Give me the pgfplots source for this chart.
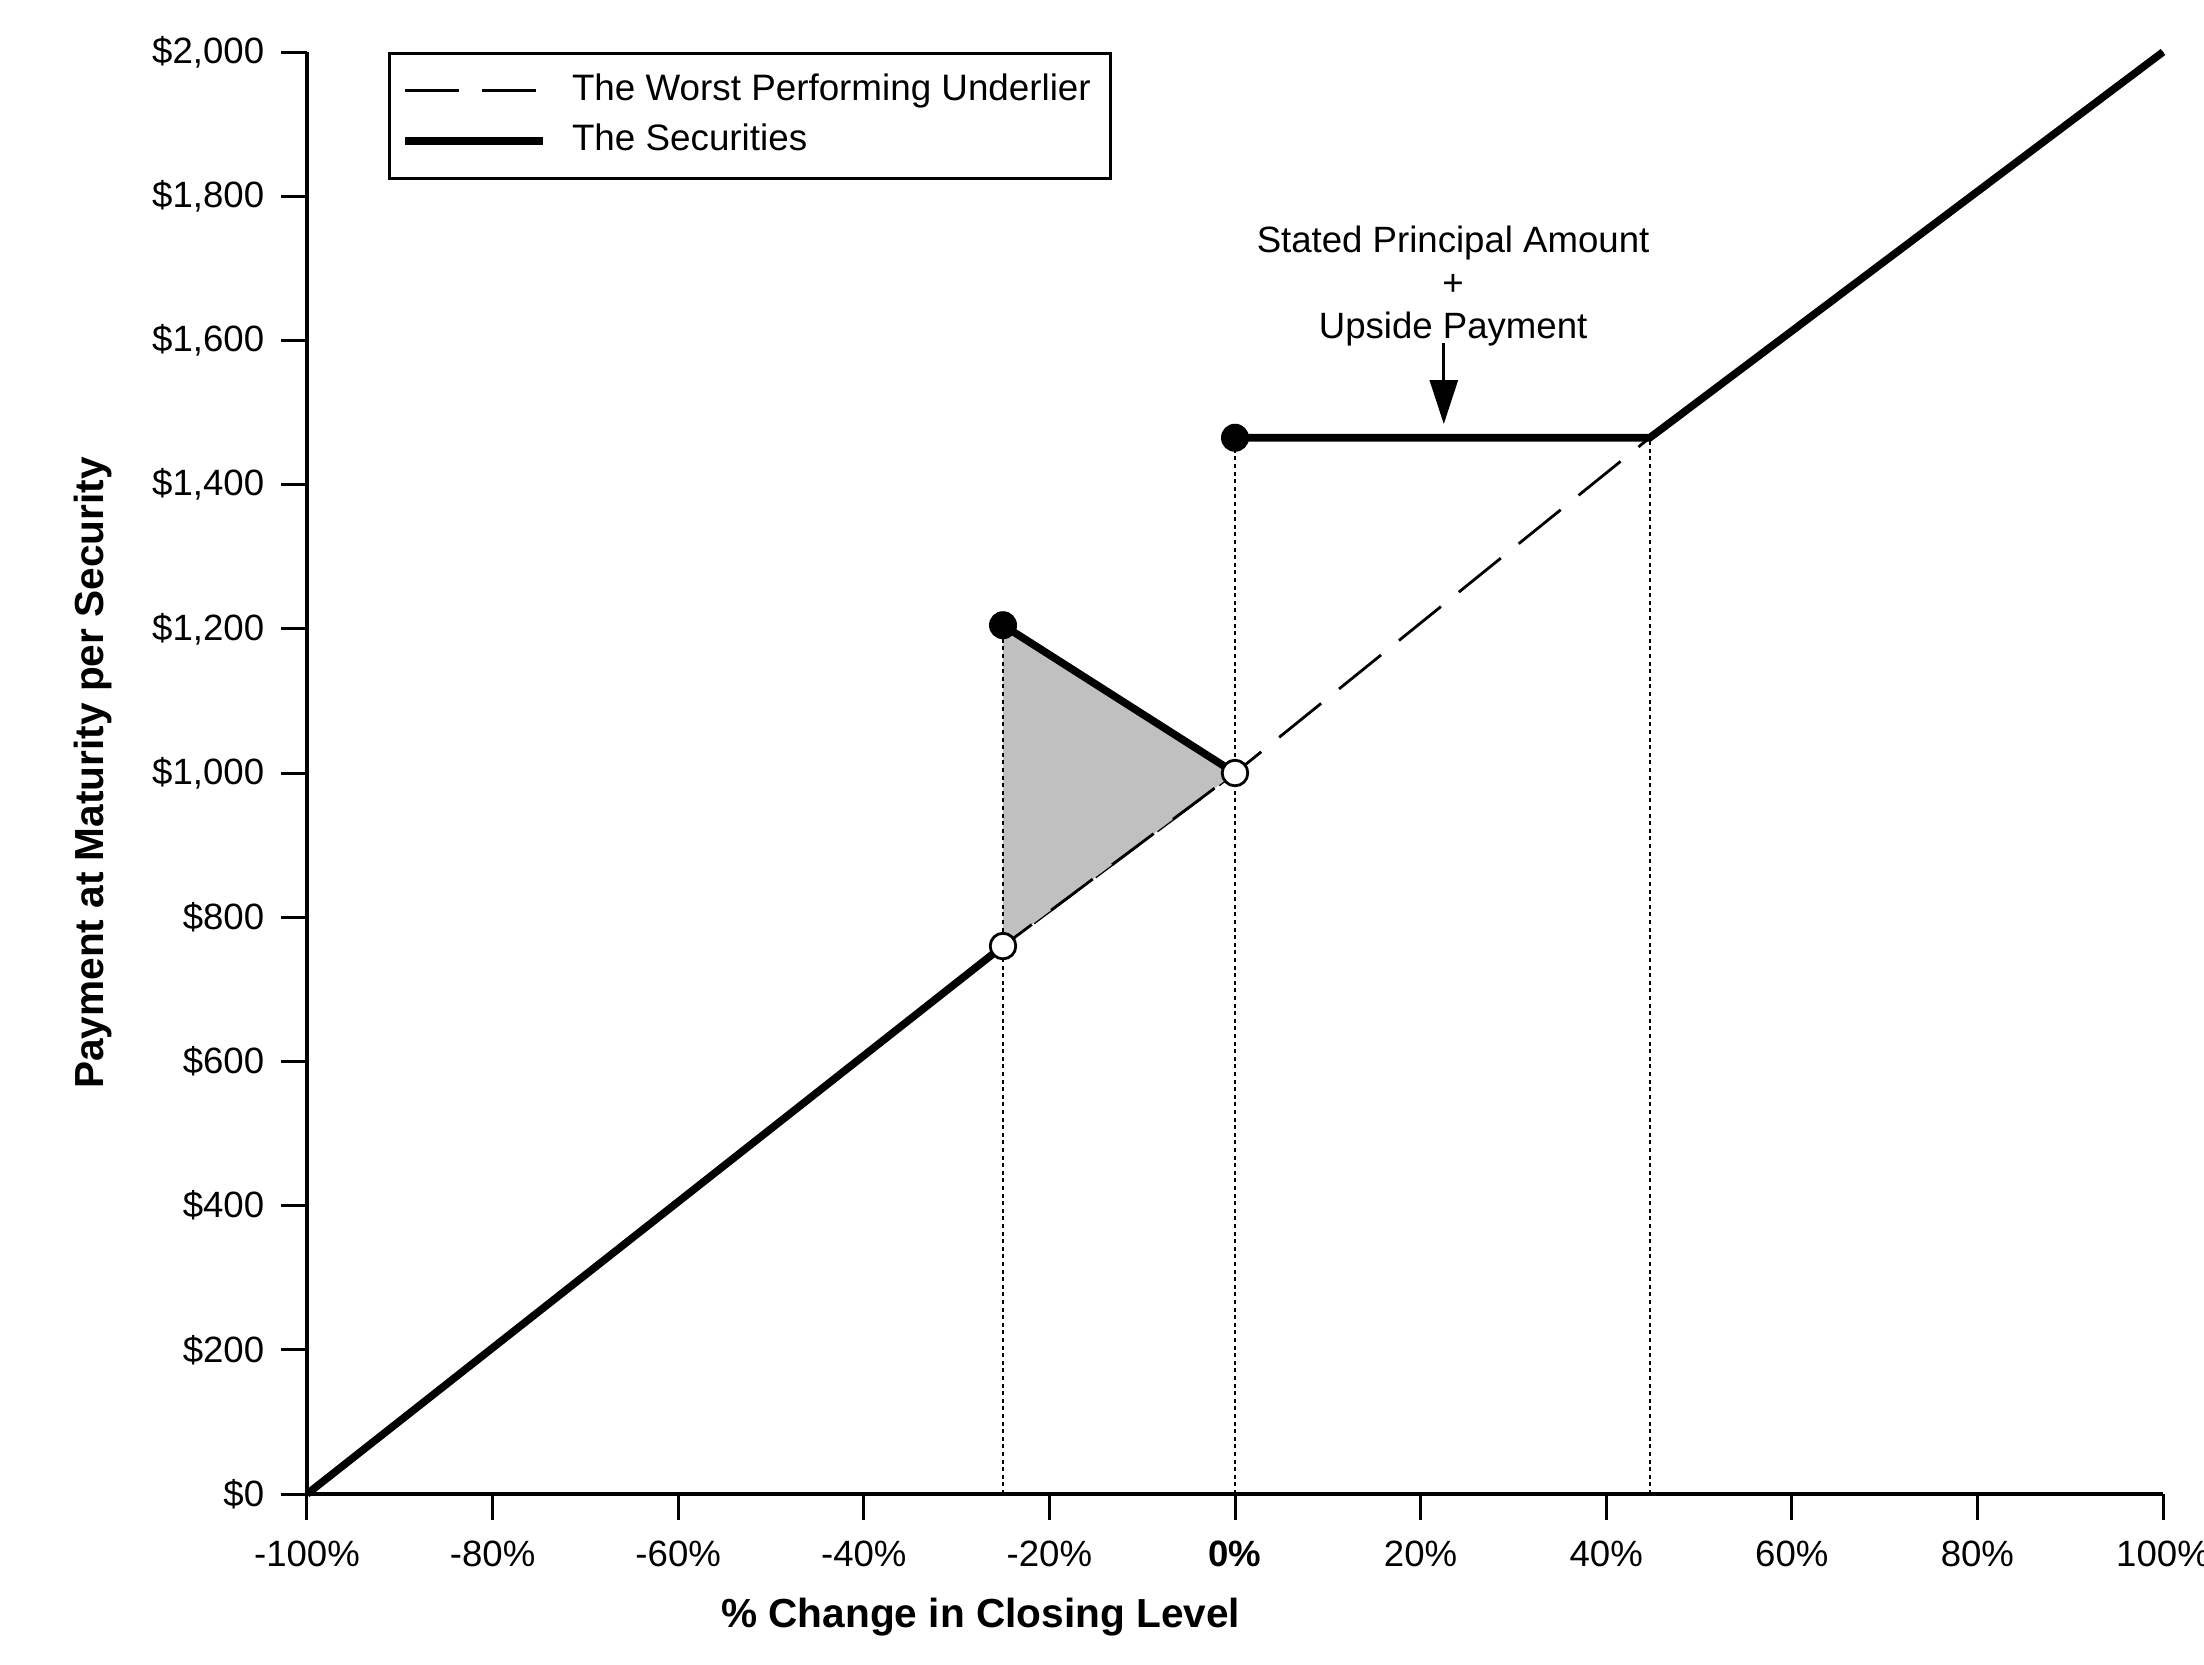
\documentclass[border=0pt]{standalone}
\usepackage{fontspec}
\setmainfont{Liberation Sans}
\usepackage{pgfplots}
\pgfplotsset{compat=1.18}
\usetikzlibrary{arrows.meta}
\definecolor{shade}{HTML}{C0C0C0}
\begin{document}
\fontsize{9.15pt}{11pt}\selectfont
\begin{tikzpicture}
\useasboundingbox (-76.75pt,-42.5pt) rectangle (474.25pt,373.5pt);
\begin{axis}[
  scale only axis, width=464pt, height=360.5pt,
  xmin=-100, xmax=100, ymin=0, ymax=2000,
  clip=false,
  axis lines=left,
  axis line style={-, line width=0.8pt},
  tick align=outside, major tick length=6.5pt,
  tick style={line width=0.75pt, black},
  xtick={-100,-80,...,100},
  xticklabels={-100\%,-80\%,-60\%,-40\%,-20\%,\textbf{0\%},20\%,40\%,60\%,80\%,100\%},
  ytick={0,200,...,2000},
  yticklabels={\$0,\$200,\$400,\$600,\$800,{\$1,000},{\$1,200},{\$1,400},{\$1,600},{\$1,800},{\$2,000}},
  xticklabel style={inner sep=0pt, anchor=north, font=\fontsize{9.15pt}{11pt}\selectfont},
  yticklabel style={inner sep=0pt, anchor=east, font=\fontsize{9.15pt}{11pt}\selectfont},
  xticklabel shift=5pt,
  yticklabel shift=4pt,
  xlabel={\% Change in Closing Level},
  ylabel={Payment at Maturity per Security},
  label style={font=\fontsize{10.15pt}{12pt}\selectfont\bfseries, inner sep=0pt},
  xlabel style={at={(axis description cs:0.363,0)}, anchor=base, yshift=-33.25pt},
  ylabel style={at={(axis description cs:-0.1099,0.5)}, anchor=base},
  legend style={at={(axis description cs:0.0436,1)}, anchor=north west,
    draw=black, line width=0.75pt, fill=white,
    inner xsep=3pt, inner ysep=3pt, row sep=0pt,
    nodes={inner sep=2pt, text height=6.7pt, text depth=1.9pt},
    font=\fontsize{9.2pt}{11pt}\selectfont},
  legend cell align=left,
  legend image code/.code={\draw[#1] (0pt,0pt) -- (34.5pt,0pt); \path (38.75pt,0pt);},
]
% underlier (dashed)
\addplot[black, line width=0.7pt, dash pattern=on 13.5pt off 5.75pt] coordinates {
  (-100,0) (-25,760) (0,1000) (44.7,1465) (100,2000)};
\addlegendentry{The Worst Performing Underlier}
% securities
\addplot[black, line width=1.9pt] coordinates {(-100,0) (-25,760)};
\addlegendentry{The Securities}
% shaded triangle
\addplot[fill=shade, draw=none, forget plot] coordinates {(-25,760) (-25,1205) (0,1000)} --cycle;
% redraw dashed segment over the shading
\addplot[black, line width=0.7pt, dash pattern=on 13pt off 6pt, dash phase=4pt, forget plot] coordinates {(-25,760) (0,1000)};
% dotted verticals
\addplot[black, line width=0.5pt, dash pattern=on 1pt off 0.9pt, forget plot] coordinates {(-25,0) (-25,1205)};
\addplot[black, line width=0.5pt, dash pattern=on 1pt off 0.9pt, forget plot] coordinates {(0,0) (0,1465)};
\addplot[black, line width=0.5pt, dash pattern=on 1pt off 0.9pt, forget plot] coordinates {(44.7,0) (44.7,1465)};
% securities other segments
\addplot[black, line width=1.9pt, forget plot] coordinates {(-25,1205) (0,1000)};
\addplot[black, line width=1.9pt, forget plot] coordinates {(0,1465) (44.7,1465) (100,2000)};
% dots
\addplot[only marks, mark=*, mark size=3.3pt, mark options={fill=black, draw=black}, forget plot]
  coordinates {(-25,1205) (0,1465)};
\addplot[only marks, mark=*, mark size=3.2pt, mark options={fill=white, draw=black, line width=0.7pt}, forget plot]
  coordinates {(-25,760) (0,1000)};
% annotation
\draw[line width=0.7pt, -{Triangle[length=11pt,width=7pt]}] (axis cs:22.5,1596) -- (axis cs:22.5,1484);
\node[anchor=base, inner sep=0pt] at (axis cs:23.5,1722.6) {Stated Principal Amount};
\node[anchor=base, inner sep=0pt] at (axis cs:23.5,1661.6) {+};
\node[anchor=base, inner sep=0pt] at (axis cs:23.5,1603) {Upside Payment};
\end{axis}
\end{tikzpicture}
\end{document}
